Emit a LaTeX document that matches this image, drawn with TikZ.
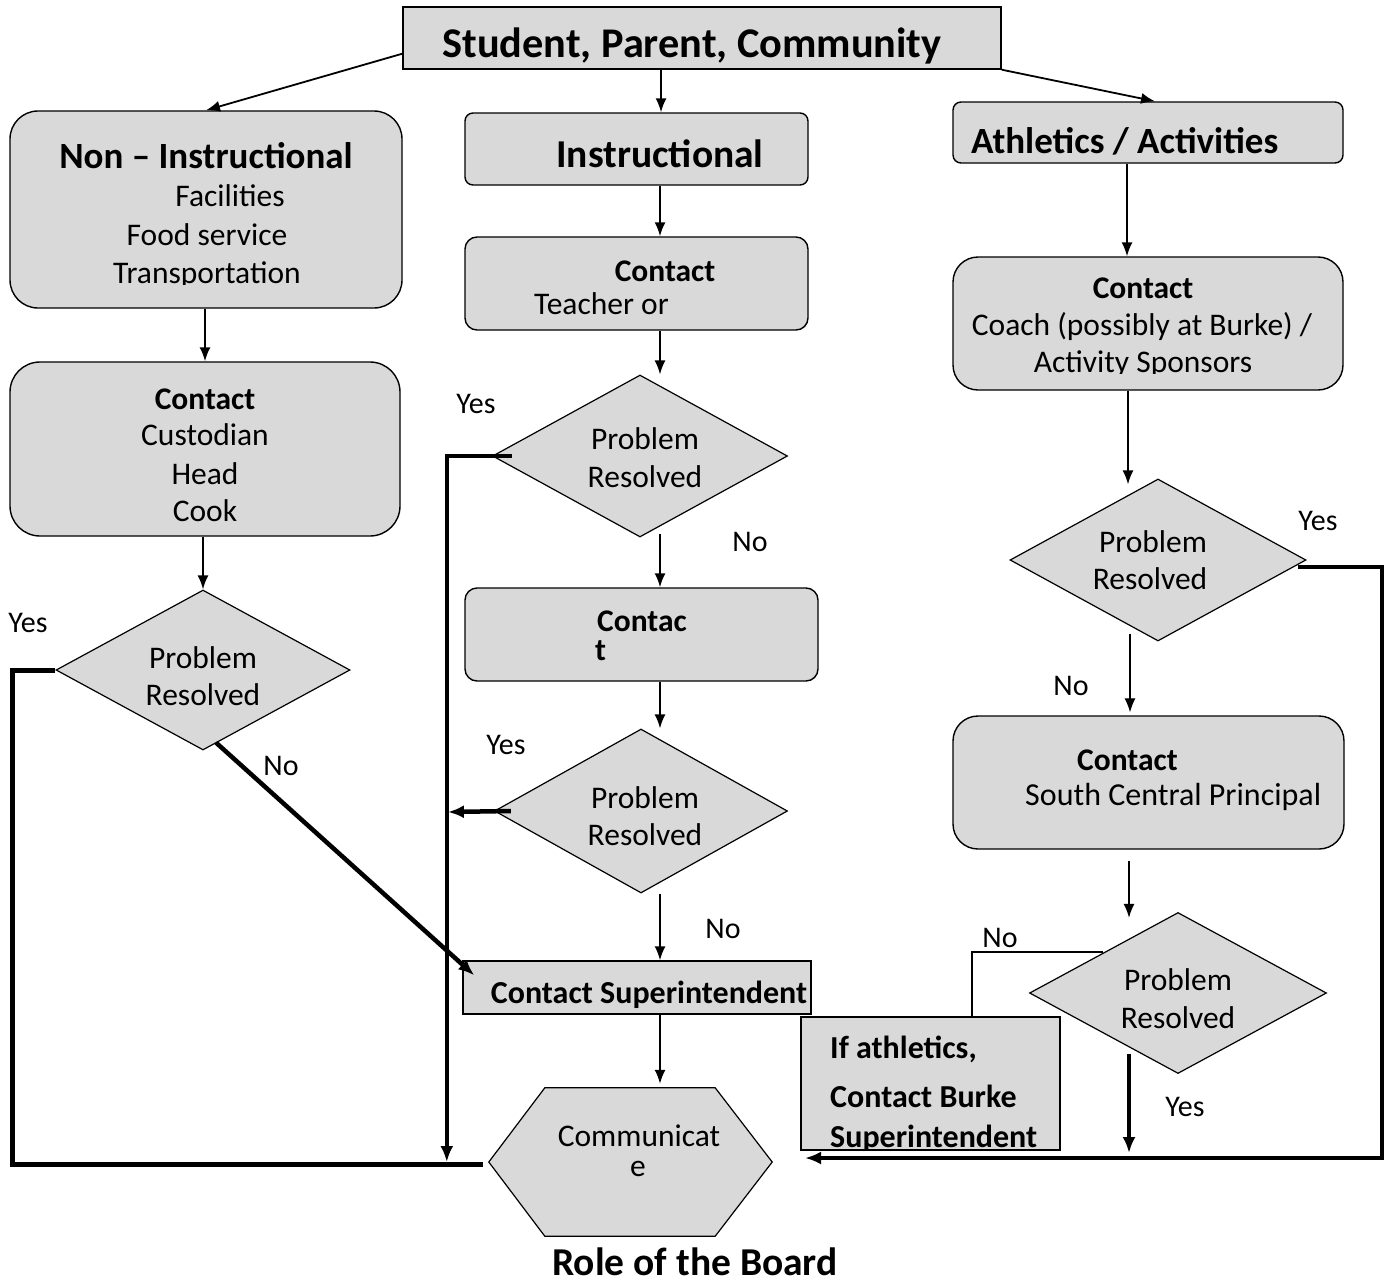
\documentclass[tikz,border=0pt]{standalone}
\usepackage{fontspec}
\setmainfont{Carlito}
\usetikzlibrary{arrows.meta,shapes.geometric,calc}
\definecolor{boxgray}{HTML}{D9D9D9}
\newcommand\fs[1]{\fontsize{#1}{#1}\selectfont}
\begin{document}
\begin{tikzpicture}[x=1pt,y=-1pt,
  box/.style={draw=black, fill=boxgray, line width=1.4pt, inner sep=0pt},
  dia/.style={box, shape=diamond, line width=1.2pt},
  arr/.style={line width=1.8pt, -{Latex[length=14pt,width=11pt]}},
  thk/.style={line width=4.5pt, -{Latex[length=16pt,width=13pt]}},
  thkl/.style={line width=5pt},
  lbl/.style={font=\fs{30}, inner sep=0pt},
  tx/.style={inner sep=0pt, anchor=base, font=\fs{31.5}},
  bx/.style={inner sep=0pt, anchor=base, font=\bfseries\fs{31.5}},
  txl/.style={tx, anchor=base west},
  bxl/.style={bx, anchor=base west}
]
\useasboundingbox (0,0) rectangle (1386,1282);

% ---------- boxes ----------
\node[box, minimum width=598pt, minimum height=62pt] (top) at (702,38) {};
\node[box, rounded corners=28pt, minimum width=392pt, minimum height=197pt] (nonin) at (206,209.5) {};
\node[box, rounded corners=8pt, minimum width=343pt, minimum height=72pt] (instr) at (636.5,149) {};
\node[box, rounded corners=8pt, minimum width=390pt, minimum height=61pt] (athl) at (1148,132.5) {};
\node[box, rounded corners=12pt, minimum width=343pt, minimum height=93pt] (icontact) at (636.5,283.5) {};
\node[box, rounded corners=25pt, minimum width=390pt, minimum height=133pt] (acontact) at (1148,323.5) {};
\node[box, rounded corners=30pt, minimum width=390pt, minimum height=174pt] (ncontact) at (205,449) {};
\node[dia, minimum width=294pt, minimum height=160pt] (d1) at (203,670) {};
\node[dia, minimum width=295pt, minimum height=162pt] (d2) at (640,456) {};
\node[box, rounded corners=12pt, minimum width=353pt, minimum height=93pt] (cbox) at (641.5,634.5) {};
\node[dia, minimum width=293pt, minimum height=164pt] (d3) at (641,811) {};
\node[box, minimum width=348pt, minimum height=53pt] (sup) at (637,987.5) {};
\node[dia, minimum width=296pt, minimum height=162pt] (d4) at (1158,560) {};
\node[box, rounded corners=25pt, minimum width=391pt, minimum height=133pt] (pcontact) at (1148.5,782.5) {};
\node[dia, minimum width=297pt, minimum height=161pt] (d5) at (1178,993) {};
\node[box, minimum width=259pt, minimum height=133pt] (ifb) at (930.5,1083.5) {};
\node[minimum width=283pt, minimum height=148pt, inner sep=0pt] (hex) at (630.5,1162) {};
\draw[box, line width=1.2pt] (hex.west) -- ($(hex.north west)+(56,0)$) -- ($(hex.north east)+(-57,0)$)
  -- (hex.east) -- ($(hex.south east)+(-57,0)$) -- ($(hex.south west)+(56,0)$) -- cycle;

% ---------- texts ----------
\node[bx, font=\bfseries\fs{42.3}] (ttop) at (692,57) {Student, Parent, Community};
\node[bx, font=\bfseries\fs{37}] (tnonin) at (206,168) {Non – Instructional};
\begin{scope}
  \clip (0,0) rectangle (1386,284);
  \node[tx] (tfac) at (230,206) {Facilities};
  \node[tx] (tfood) at (207,245) {Food service};
  \node[tx] (ttrans) at (207,283) {Transportation};
\end{scope}
\node[bx, font=\bfseries\fs{39.5}] (tinstr) at (660,167) {Instructional};
\node[bxl, font=\bfseries\fs{37}] (tathl) at (971,153) {Athletics / Activities};
\node[bx] (tic1) at (665,281) {Contact};
\node[txl] (tic2) at (534,314) {Teacher or};
\node[bx] (tac1) at (1143,298) {Contact};
\node[tx] (tac2) at (1142,335) {Coach (possibly at Burke) /};
\begin{scope}
  \clip (900,340) rectangle (1386,373.5);
  \node[tx] (tac3) at (1143,372) {Activity Sponsors};
\end{scope}
\node[bx] (tnc1) at (205,409) {Contact};
\node[tx] (tnc2) at (205,445) {Custodian};
\node[tx] (tnc3) at (205,484) {Head};
\begin{scope}
  \clip (0,490) rectangle (450,521.5);
  \node[tx] (tnc4) at (205,521) {Cook};
\end{scope}
\node[tx] (td1a) at (203,668) {Problem};
\node[tx] (td1b) at (203,705) {Resolved};
\node[tx] (td2a) at (645,449) {Problem};
\node[tx] (td2b) at (645,487) {Resolved};
\node[bxl] (tcb1) at (597,631) {Contac};
\node[bxl] (tcb2) at (595,660) {t};
\node[tx] (td3a) at (645,808) {Problem};
\node[tx] (td3b) at (645,845) {Resolved};
\node[bx, font=\bfseries\fs{32}] (tsup) at (649,1003) {Contact Superintendent};
\node[tx] (thex1) at (639,1146) {Communicat};
\node[tx] (thex2) at (638,1176) {e};
\node[tx] (td4a) at (1153,552) {Problem};
\node[tx] (td4b) at (1150,589) {Resolved};
\node[bxl] (tpc1) at (1077,770) {Contact};
\node[txl, font=\fs{32}] (tpc2) at (1025,805) {South Central Principal};
\node[tx] (td5a) at (1178,990) {Problem};
\node[tx] (td5b) at (1178,1028) {Resolved};
\node[bxl, font=\bfseries\fs{32}] (tif1) at (830,1058) {If athletics,};
\node[bxl, font=\bfseries\fs{32}] (tif2) at (830,1107) {Contact Burke};
\begin{scope}
  \clip (800,1120) rectangle (1061,1149);
  \node[bxl, font=\bfseries\fs{32}] (tif3) at (830,1147) {Superintendent};
\end{scope}
\node[bx, font=\bfseries\fs{39.5}] (trole) at (695,1275) {Role of the Board};

% ---------- labels ----------
\node[lbl] (ly1) at (28,623) {Yes};
\node[lbl] (ln1) at (281,766) {No};
\node[lbl] (ly2) at (476,404) {Yes};
\node[lbl] (ln2) at (750,542) {No};
\node[lbl] (ly3) at (506,745) {Yes};
\node[lbl] (ln3) at (723,929) {No};
\node[lbl] (ly4) at (1318,521) {Yes};
\node[lbl] (ln4) at (1071,686) {No};
\node[lbl] (ln5) at (1000,938) {No};
\node[lbl] (ly5) at (1185,1107) {Yes};

% ---------- coordinates ----------
\coordinate (retR) at (1382,1158);
\coordinate (retL) at (805,1158);
\coordinate (retLL) at (12,1164);
\coordinate (yesend) at (1129,1153);

% ---------- connectors ----------
\draw[arr] ($(top.south west)+(0,-16)$) -- (nonin.north);
\draw[arr] (top.south -| 661,0) -- (instr.north -| 661,0);
\draw[arr] (top.south east) -- (athl.north -| 1155,0);
\draw[arr] (athl.south -| 1127,0) -- (acontact.north -| 1127,0);
\draw[arr] (instr.south -| 660,0) -- (icontact.north -| 660,0);
\draw[arr] (nonin.south -| 205,0) -- (ncontact.north -| 205,0);
\draw[arr] (ncontact.south -| d1.north) -- (d1.north);
\draw[arr] (icontact.south -| 660,0) -- (d2.north -| 660,0);
\draw[arr] (acontact.south -| 1128,0) -- ($(d4.north -| 1128,0)+(0,6)$);
\draw[arr] ($(d2.south -| 660,0)+(0,-4)$) -- (cbox.north -| 660,0);
\draw[arr] (cbox.south -| 660,0) -- (d3.north -| 660,0);
\draw[arr] (d3.south -| 660,0) -- (sup.north -| 660,0);
\draw[arr] (sup.south -| 660,0) -- ($(hex.north -| 660,0)+(0,-4)$);
\draw[arr, line width=1.2pt] ($(d4.south -| 1130,0)+(0,-8)$) -- ($(pcontact.north -| 1130,0)+(0,-3)$);
\draw[arr] ($(pcontact.south -| 1129,0)+(0,11)$) -- ($(d5.north -| 1129,0)+(0,6)$);
\draw[thk] ($(d5.south -| 1129,0)+(0,-20)$) -- (yesend);
\draw[line width=2pt] (d5.north west) -- (d5.north west -| 972,0) -- (ifb.north -| 972,0);
\draw[thk] ($(d4.east)+(-9,7)$) -| (retR) -- (retL);
\draw[thkl] (d1.west) -| (retLL) -- ($(hex.west)+(-6,2)$);
\draw[thk] ($(d2.west)+(20,0)$) -| ($(hex.west)+(-42,0)$);
\draw[thk] ($(d3.west)+(17,0)$) -- ($(d3.west)+(-46,1)$);
\draw[thk] ($(d1.south)+(13,-8)$) -- ($(sup.north west)+(12,15)$);
\end{tikzpicture}
\end{document}
